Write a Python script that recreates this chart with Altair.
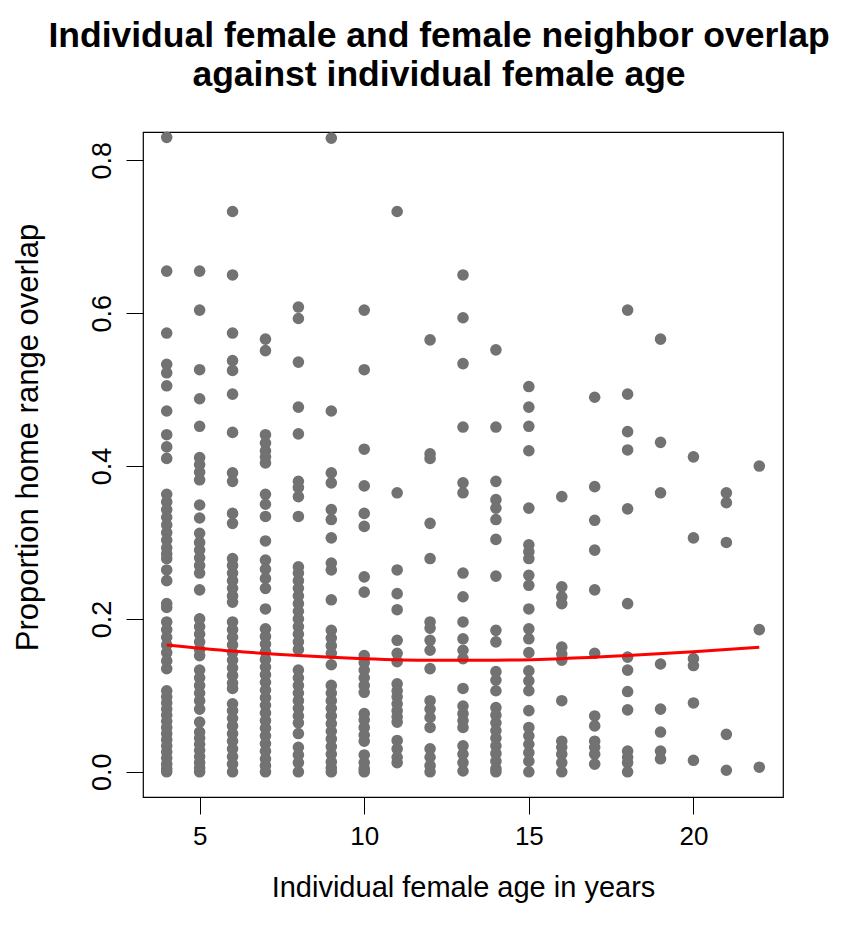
import altair as alt
import pandas as pd

# Proportion home range overlap values, one list per individual female age
age4 = [0.83, 0.655, 0.574, 0.533, 0.522, 0.505, 0.472, 0.441, 0.425, 0.41, 0.363, 0.353, 0.343, 0.333,
        0.323, 0.313, 0.303, 0.293, 0.285, 0.279, 0.264, 0.25, 0.22, 0.215, 0.196, 0.186, 0.176, 0.166,
        0.156, 0.145, 0.135, 0.106, 0.098, 0.09, 0.082, 0.074, 0.066, 0.058, 0.05, 0.042, 0.034, 0.026,
        0.018, 0.01, 0.004, 0.0]
age5 = [0.655, 0.604, 0.526, 0.488, 0.452, 0.411, 0.402, 0.392, 0.382, 0.349, 0.332, 0.312, 0.30, 0.29,
        0.28, 0.27, 0.26, 0.238, 0.2, 0.19, 0.18, 0.17, 0.16, 0.152, 0.133, 0.123, 0.113, 0.103, 0.093,
        0.082, 0.065, 0.052, 0.044, 0.036, 0.028, 0.02, 0.012, 0.005, 0.0]
age6 = [0.733, 0.65, 0.574, 0.538, 0.525, 0.494, 0.444, 0.391, 0.38, 0.338, 0.325, 0.279, 0.27, 0.26,
        0.25, 0.24, 0.23, 0.222, 0.196, 0.186, 0.176, 0.166, 0.156, 0.146, 0.136, 0.126, 0.116, 0.109,
        0.089, 0.08, 0.07, 0.06, 0.05, 0.04, 0.03, 0.02, 0.01, 0.0]
age7 = [0.566, 0.551, 0.441, 0.43, 0.42, 0.412, 0.404, 0.363, 0.35, 0.334, 0.302, 0.277, 0.265, 0.253,
        0.24, 0.213, 0.187, 0.177, 0.167, 0.157, 0.147, 0.137, 0.127, 0.117, 0.107, 0.097, 0.087, 0.077,
        0.067, 0.057, 0.047, 0.037, 0.027, 0.017, 0.008, 0.0]
age8 = [0.608, 0.593, 0.536, 0.477, 0.442, 0.38, 0.372, 0.36, 0.334, 0.268, 0.26, 0.25, 0.24, 0.23, 0.22,
        0.21, 0.2, 0.19, 0.18, 0.17, 0.16, 0.133, 0.123, 0.113, 0.103, 0.093, 0.083, 0.073, 0.064, 0.05,
        0.032, 0.022, 0.012, 0.0]
age9 = [0.829, 0.472, 0.391, 0.378, 0.343, 0.33, 0.306, 0.273, 0.264, 0.225, 0.185, 0.175, 0.165, 0.155,
        0.14, 0.113, 0.103, 0.093, 0.083, 0.073, 0.063, 0.053, 0.043, 0.033, 0.023, 0.013, 0.005, 0.0]
age10 = [0.604, 0.526, 0.422, 0.374, 0.338, 0.321, 0.255, 0.235, 0.152, 0.143, 0.133, 0.123, 0.113, 0.104,
         0.076, 0.068, 0.058, 0.048, 0.04, 0.022, 0.012, 0.004, 0.0]
age11 = [0.733, 0.365, 0.264, 0.233, 0.212, 0.172, 0.155, 0.144, 0.115, 0.106, 0.098, 0.089, 0.08, 0.072,
         0.065, 0.041, 0.03, 0.019, 0.012]
age12 = [0.565, 0.416, 0.41, 0.325, 0.279, 0.196, 0.188, 0.172, 0.159, 0.135, 0.093, 0.082, 0.071, 0.058,
         0.03, 0.019, 0.008, 0.0]
age13 = [0.65, 0.594, 0.534, 0.451, 0.378, 0.365, 0.26, 0.229, 0.196, 0.174, 0.159, 0.148, 0.109, 0.086,
         0.076, 0.067, 0.058, 0.034, 0.023, 0.012, 0.001]
age14 = [0.552, 0.451, 0.38, 0.356, 0.345, 0.33, 0.304, 0.256, 0.185, 0.17, 0.131, 0.12, 0.106, 0.084,
         0.074, 0.064, 0.054, 0.044, 0.034, 0.024, 0.014, 0.004, 0.0]
age15 = [0.504, 0.477, 0.452, 0.42, 0.345, 0.297, 0.288, 0.279, 0.257, 0.244, 0.213, 0.187, 0.174, 0.156,
         0.132, 0.119, 0.106, 0.08, 0.058, 0.047, 0.036, 0.025, 0.014, 0.0]
age16 = [0.36, 0.242, 0.229, 0.22, 0.163, 0.154, 0.146, 0.093, 0.04, 0.032, 0.023, 0.012, 0.0]
age17 = [0.49, 0.373, 0.329, 0.29, 0.238, 0.155, 0.073, 0.06, 0.04, 0.032, 0.023, 0.01]
age18 = [0.604, 0.494, 0.445, 0.421, 0.344, 0.22, 0.15, 0.133, 0.105, 0.081, 0.027, 0.019, 0.012, 0.0]
age19 = [0.566, 0.431, 0.365, 0.141, 0.082, 0.052, 0.027, 0.017]
age20 = [0.412, 0.306, 0.148, 0.139, 0.09, 0.015]
age21 = [0.365, 0.352, 0.3, 0.049, 0.002]
age22 = [0.4, 0.186, 0.006]

ages = list(range(4, 23))
columns = [age4, age5, age6, age7, age8, age9, age10, age11, age12, age13, age14, age15,
           age16, age17, age18, age19, age20, age21, age22]

# Fitted smooth curve
fit_x = [4, 6, 8, 10, 12, 14, 16, 18, 20, 22]
fit_y = [0.166, 0.158, 0.152, 0.148, 0.146, 0.146, 0.148, 0.152, 0.157, 0.163]

x_ticks = [5, 10, 15, 20]
y_ticks = [0.0, 0.2, 0.4, 0.6, 0.8]

rows = [{"age": a, "overlap": v} for a, vals in zip(ages, columns) for v in vals]
df = pd.DataFrame(rows)
fit_df = pd.DataFrame({"age": fit_x, "overlap": fit_y})

FONT = "Liberation Sans"

x_enc = alt.X("age:Q",
              scale=alt.Scale(domain=[3.28, 22.72], nice=False, zero=False),
              axis=alt.Axis(values=x_ticks, title="Individual female age in years",
                            labelPadding=9, titlePadding=24, format="d",
                            labelFontSize=26, titleFontSize=29))
y_enc = alt.Y("overlap:Q",
              scale=alt.Scale(domain=[-0.033, 0.837], nice=False, zero=False),
              axis=alt.Axis(values=y_ticks, title="Proportion home range overlap", format=".1f",
                            labelAngle=270, labelAlign="center", labelBaseline="bottom",
                            labelPadding=10, titlePadding=44, titleY=305,
                            labelFontSize=27, titleFontSize=31))

points = alt.Chart(df).mark_circle(size=135, color="#727272", opacity=1).encode(x=x_enc, y=y_enc)
line = alt.Chart(fit_df).mark_line(color="#ff0000", strokeWidth=3, interpolate="monotone").encode(
    x=alt.X("age:Q"), y=alt.Y("overlap:Q"))

chart = alt.layer(points, line).properties(
    width=640,
    height=665,
    background="white",
    autosize=alt.AutoSizeParams(type="none"),
    padding={"left": 135, "top": 124, "right": 58, "bottom": 110},
    title=alt.TitleParams(
        text=["Individual female and female neighbor overlap", "against individual female age"],
        font=FONT, fontSize=35.5, fontWeight="bold", color="black",
        anchor="middle", lineHeight=39, offset=38, dx=-24,
    ),
).configure_view(
    stroke="black", strokeWidth=1.2
).configure_axis(
    domain=False, grid=False, ticks=True, tickSize=17, tickColor="black", tickWidth=1,
    labelFont=FONT, labelColor="black",
    titleFont=FONT, titleFontWeight="normal", titleColor="black",
)

chart.save("out.html", embed_options={"renderer": "svg", "actions": False})
